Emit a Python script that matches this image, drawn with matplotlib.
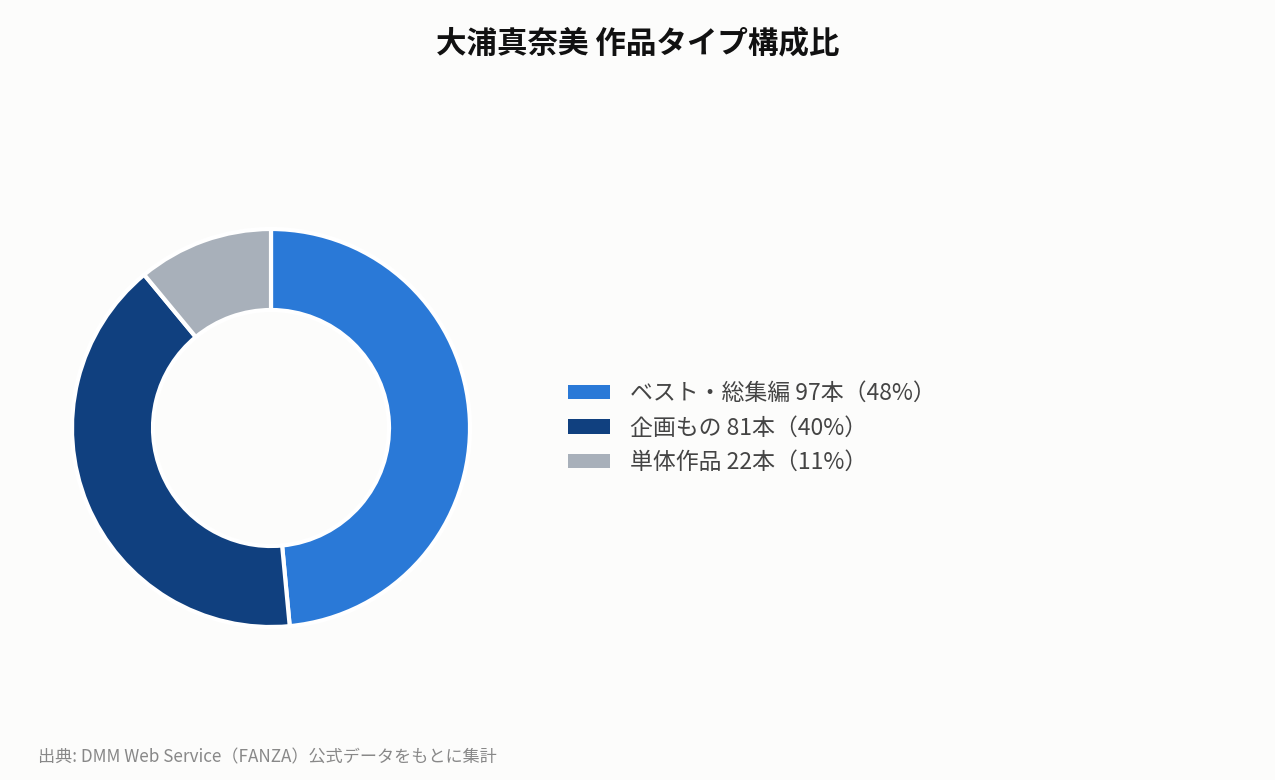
import matplotlib
matplotlib.use("Agg")
import matplotlib.pyplot as plt
from matplotlib.patches import Patch

plt.rcParams['font.family'] = ['Noto Sans CJK JP', 'DejaVu Sans']

categories = ["ベスト・総集編", "企画もの", "単体作品"]
counts = [97, 81, 22]
percents = [48, 40, 11]
colors = ["#2a79d7", "#10407f", "#a8b0ba"]
title = "大浦真奈美 作品タイプ構成比"
source = "出典: DMM Web Service（FANZA）公式データをもとに集計"

W, H = 1275, 780
fig = plt.figure(figsize=(W / 100, H / 100), dpi=100)
bg = "#fcfcfb"
fig.patch.set_facecolor(bg)

cx, cy, R = 271, 428, 200
ax = fig.add_axes([(cx - R) / W, (H - cy - R) / H, 2 * R / W, 2 * R / H])
ax.set_facecolor(bg)
wedges, _ = ax.pie(counts, colors=colors, startangle=90, counterclock=False,
                   radius=0.995, wedgeprops=dict(width=0.405, edgecolor="white", linewidth=3))
ax.set_xlim(-1, 1)
ax.set_ylim(-1, 1)
ax.set_aspect("equal")
ax.axis("off")

fs = 16.5
labels = [f"{c} {n}本（{p}%）" for c, n, p in zip(categories, counts, percents)]
handles = [Patch(facecolor=col, edgecolor="none") for col in colors]
leg = fig.legend(handles, labels, loc="upper left", bbox_to_anchor=(560 / W, 1 - 374 / H),
                 frameon=False, fontsize=fs, handlelength=1.83, handleheight=0.6,
                 handletextpad=0.87, labelspacing=0.5, borderaxespad=0, borderpad=0.35)
for t in leg.get_texts():
    t.set_color("#444444")

fig.text(0.5, 1 - 44 / H, title, ha="center", va="center", fontsize=22,
         fontweight="bold", color="#111111")
fig.text(38 / W, 1 - 757 / H, source, ha="left", va="center", fontsize=12.3, color="#888888")

fig.savefig("out.png", dpi=100, facecolor=bg)
